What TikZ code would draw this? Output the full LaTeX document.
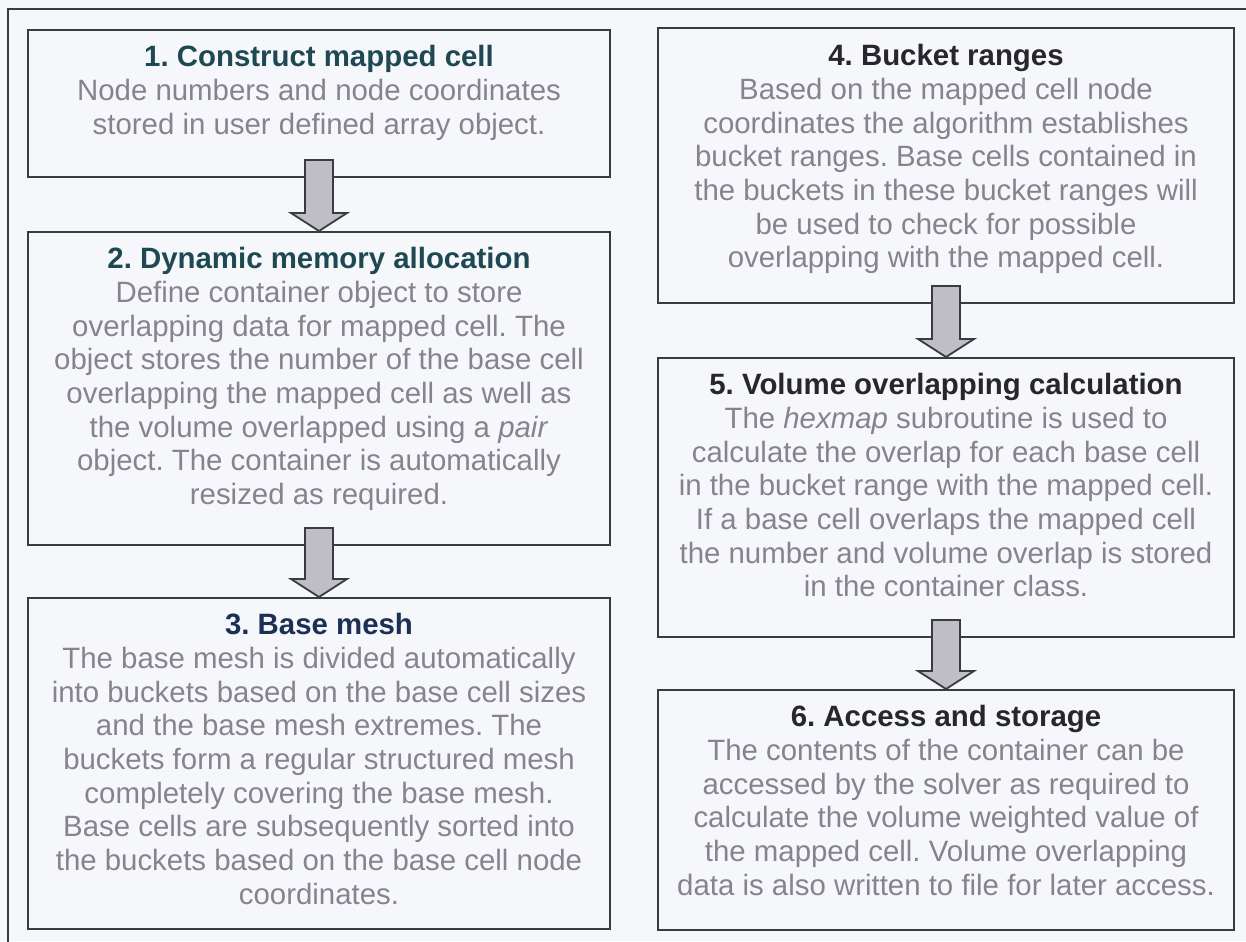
\documentclass[tikz,border=0pt]{standalone}
\usepackage{fontspec}
\setmainfont{Liberation Sans}
\usetikzlibrary{calc,positioning}

\definecolor{paper}{RGB}{245,247,251}
\definecolor{boxline}{RGB}{58,58,66}
\definecolor{bodygray}{RGB}{135,131,142}
\definecolor{titleteal}{RGB}{30,72,82}
\definecolor{titlenavy}{RGB}{28,48,86}
\definecolor{titledark}{RGB}{38,38,44}
\definecolor{arrowgray}{RGB}{190,190,196}

\begin{document}
\frenchspacing
\begin{tikzpicture}[x=0.5bp, y=-0.5bp,
    stepbox/.style={draw=boxline, line width=1bp, minimum width=291bp, inner sep=0pt},
    steptext/.style={anchor=north, align=center, inner sep=0pt, text=bodygray,
        font=\fontsize{14.7bp}{16.85bp}\selectfont},
    flowarrow/.style={fill=arrowgray, draw=boxline, line width=0.9bp, line join=miter}]
    \useasboundingbox (0,0) rectangle (1246,941);
    \fill[paper] (0,0) rectangle (1246,941);
    \begin{scope}
        \clip (0,0) rectangle (1246,941);
        \draw[boxline, line width=0.8bp] (8,9) rectangle (1262,960);
    \end{scope}

    % left column
    \node[stepbox, minimum height=73.5bp] (b1) at (319,103.5) {};
    \node[stepbox, minimum height=156.5bp] (b2) at (319,388.5) {};
    \node[stepbox, minimum height=165.5bp] (b3) at (319,763.5) {};
    % right column
    \node[stepbox, minimum width=288bp, minimum height=137.5bp] (b4) at (946,165.5) {};
    \node[stepbox, minimum width=288bp, minimum height=139.5bp] (b5) at (946,497.5) {};
    \node[stepbox, minimum width=288bp, minimum height=120bp] (b6) at (946,810) {};

    \node[steptext, below=8bp of b1.north] (t1) {\textcolor{titleteal}{\bfseries 1. Construct mapped cell}\\
        Node numbers and node coordinates\\
        stored in user defined array object.};
    \node[steptext, below=8bp of b2.north] (t2) {\textcolor{titleteal}{\bfseries 2. Dynamic memory allocation}\\
        Define container object to store\\
        overlapping data for mapped cell. The\\
        object stores the number of the base cell\\
        overlapping the mapped cell as well as\\
        the volume overlapped using a \textit{pair}\\
        object. The container is automatically\\
        resized as required.};
    \node[steptext, below=8bp of b3.north] (t3) {\textcolor{titlenavy}{\bfseries 3. Base mesh}\\
        The base mesh is divided automatically\\
        into buckets based on the base cell sizes\\
        and the base mesh extremes. The\\
        buckets form a regular structured mesh\\
        completely covering the base mesh.\\
        Base cells are subsequently sorted into\\
        the buckets based on the base cell node\\
        coordinates.};
    \node[steptext, below=8.5bp of b4.north] (t4) {\textcolor{titledark}{\bfseries 4. Bucket ranges}\\
        Based on the mapped cell node\\
        coordinates the algorithm establishes\\
        bucket ranges. Base cells contained in\\
        the buckets in these bucket ranges will\\
        be used to check for possible\\
        overlapping with the mapped cell.};
    \node[steptext, below=8bp of b5.north] (t5) {\textcolor{titledark}{\bfseries 5. Volume overlapping calculation}\\
        The \textit{hexmap} subroutine is used to\\
        calculate the overlap for each base cell\\
        in the bucket range with the mapped cell.\\
        If a base cell overlaps the mapped cell\\
        the number and volume overlap is stored\\
        in the container class.};
    \node[steptext, below=8bp of b6.north] (t6) {\textcolor{titledark}{\bfseries 6. Access and storage}\\
        The contents of the container can be\\
        accessed by the solver as required to\\
        calculate the volume weighted value of\\
        the mapped cell. Volume overlapping\\
        data is also written to file for later access.};

    % block arrows between the steps
    \foreach \a/\b in {b1/b2,b2/b3,b4/b5,b5/b6}{
        \filldraw[flowarrow] ($(\a.south)+(-7bp,9bp)$) -- ($(\a.south)+(7bp,9bp)$)
            -- ($(\b.north)+(7bp,9bp)$) -- ($(\b.north)+(14bp,9bp)$) -- (\b.north)
            -- ($(\b.north)+(-14bp,9bp)$) -- ($(\b.north)+(-7bp,9bp)$) -- cycle;
    }
\end{tikzpicture}
\end{document}
